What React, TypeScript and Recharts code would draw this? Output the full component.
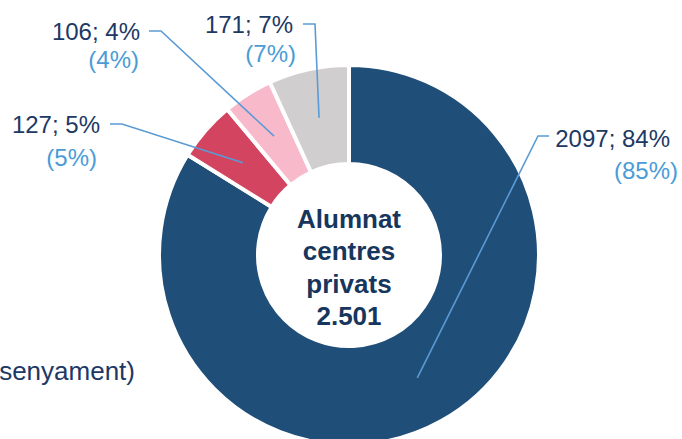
import { Label, Pie, PieChart, Cell } from 'recharts';

// segments, clockwise from 12 o'clock
const segments = ['Segment 1', 'Segment 2', 'Segment 3', 'Segment 4'];
const students = [2097, 127, 106, 171];
const altPct = [85, 5, 4, 7];
const centerLines = ['Alumnat', 'centres', 'privats'];
const cutLegend = "(centres d'ensenyament)";

const colors = ['#1F4E79', '#D2445F', '#F8BACB', '#D0CECE'];
const NAVY = '#203864';
const LIGHT = '#4A9CD6';
const LEADER = '#5B9BD5';
const FONT = '"Liberation Sans", Arial, sans-serif';

const total = students.reduce((a, b) => a + b, 0);
const fmtTotal = (n: number) => String(n).replace(/\B(?=(\d{3})+(?!\d))/g, '.');

const data = segments.map((name, i) => ({ name, value: students[i] }));

// where each label sits (elbow, end of leader, right edges + baselines of the two lines)
const labelLayout = [
  { elbow: [538, 136], end: [549, 136], l1: [670, 147], l2: [678, 179] },
  { elbow: [122, 124], end: [110, 124], l1: [100, 133], l2: [97, 166] },
  { elbow: [161, 31], end: [149, 31], l1: [140, 40], l2: [139, 68] },
  { elbow: [315, 24], end: [303, 24], l1: [293, 33], l2: [296, 62] },
];

const RAD = Math.PI / 180;

function renderLabel(props: any) {
  const { cx, cy, midAngle, innerRadius, outerRadius, index, value } = props;
  const r = (innerRadius + outerRadius) / 2;
  const sx = cx + r * Math.cos(-midAngle * RAD);
  const sy = cy + r * Math.sin(-midAngle * RAD);
  const l = labelLayout[index];
  const pct = Math.round((value / total) * 100);
  return (
    <g key={`lbl-${index}`}>
      <polyline
        points={`${sx},${sy} ${l.elbow[0]},${l.elbow[1]} ${l.end[0]},${l.end[1]}`}
        fill="none"
        stroke={LEADER}
        strokeWidth={1.6}
      />
      <text x={l.l1[0]} y={l.l1[1]} textAnchor="end" fill={NAVY} fontSize={24} fontFamily={FONT}>
        {`${value}; ${pct}%`}
      </text>
      <text x={l.l2[0]} y={l.l2[1]} textAnchor="end" fill={LIGHT} fontSize={24} fontFamily={FONT}>
        {`(${altPct[index]}%)`}
      </text>
    </g>
  );
}

function CenterText(props: any) {
  const vb = props.viewBox || {};
  const cx = vb.cx ?? 349;
  const cy = vb.cy ?? 255;
  const lines = [...centerLines, fmtTotal(total)];
  return (
    <text textAnchor="middle" fill="#17365D" fontSize={26} fontWeight="bold" fontFamily={FONT}>
      {lines.map((t, i) => (
        <tspan key={t} x={cx} y={cy - 27 + i * 32.3}>
          {t}
        </tspan>
      ))}
    </text>
  );
}

export default function App() {
  return (
    <div
      style={{
        position: 'absolute',
        left: 0,
        top: 0,
        width: 682,
        height: 439,
        overflow: 'hidden',
        background: '#fff',
        fontFamily: FONT,
      }}
    >
      <PieChart width={682} height={439} margin={{ top: 0, right: 0, bottom: 0, left: 0 }}>
        <Pie
          data={data}
          dataKey="value"
          nameKey="name"
          cx={349}
          cy={255}
          innerRadius={91}
          outerRadius={190}
          startAngle={90}
          endAngle={-270}
          stroke="#fff"
          strokeWidth={4}
          label={renderLabel}
          labelLine={false}
          isAnimationActive={false}
        >
          {data.map((d, i) => (
            <Cell key={d.name} fill={colors[i]} />
          ))}
          <Label position="center" content={CenterText} />
        </Pie>
      </PieChart>
      <div
        style={{
          position: 'absolute',
          right: 682 - 135,
          top: 356,
          fontSize: 26,
          lineHeight: '30px',
          color: NAVY,
          whiteSpace: 'nowrap',
        }}
      >
        {cutLegend}
      </div>
    </div>
  );
}
